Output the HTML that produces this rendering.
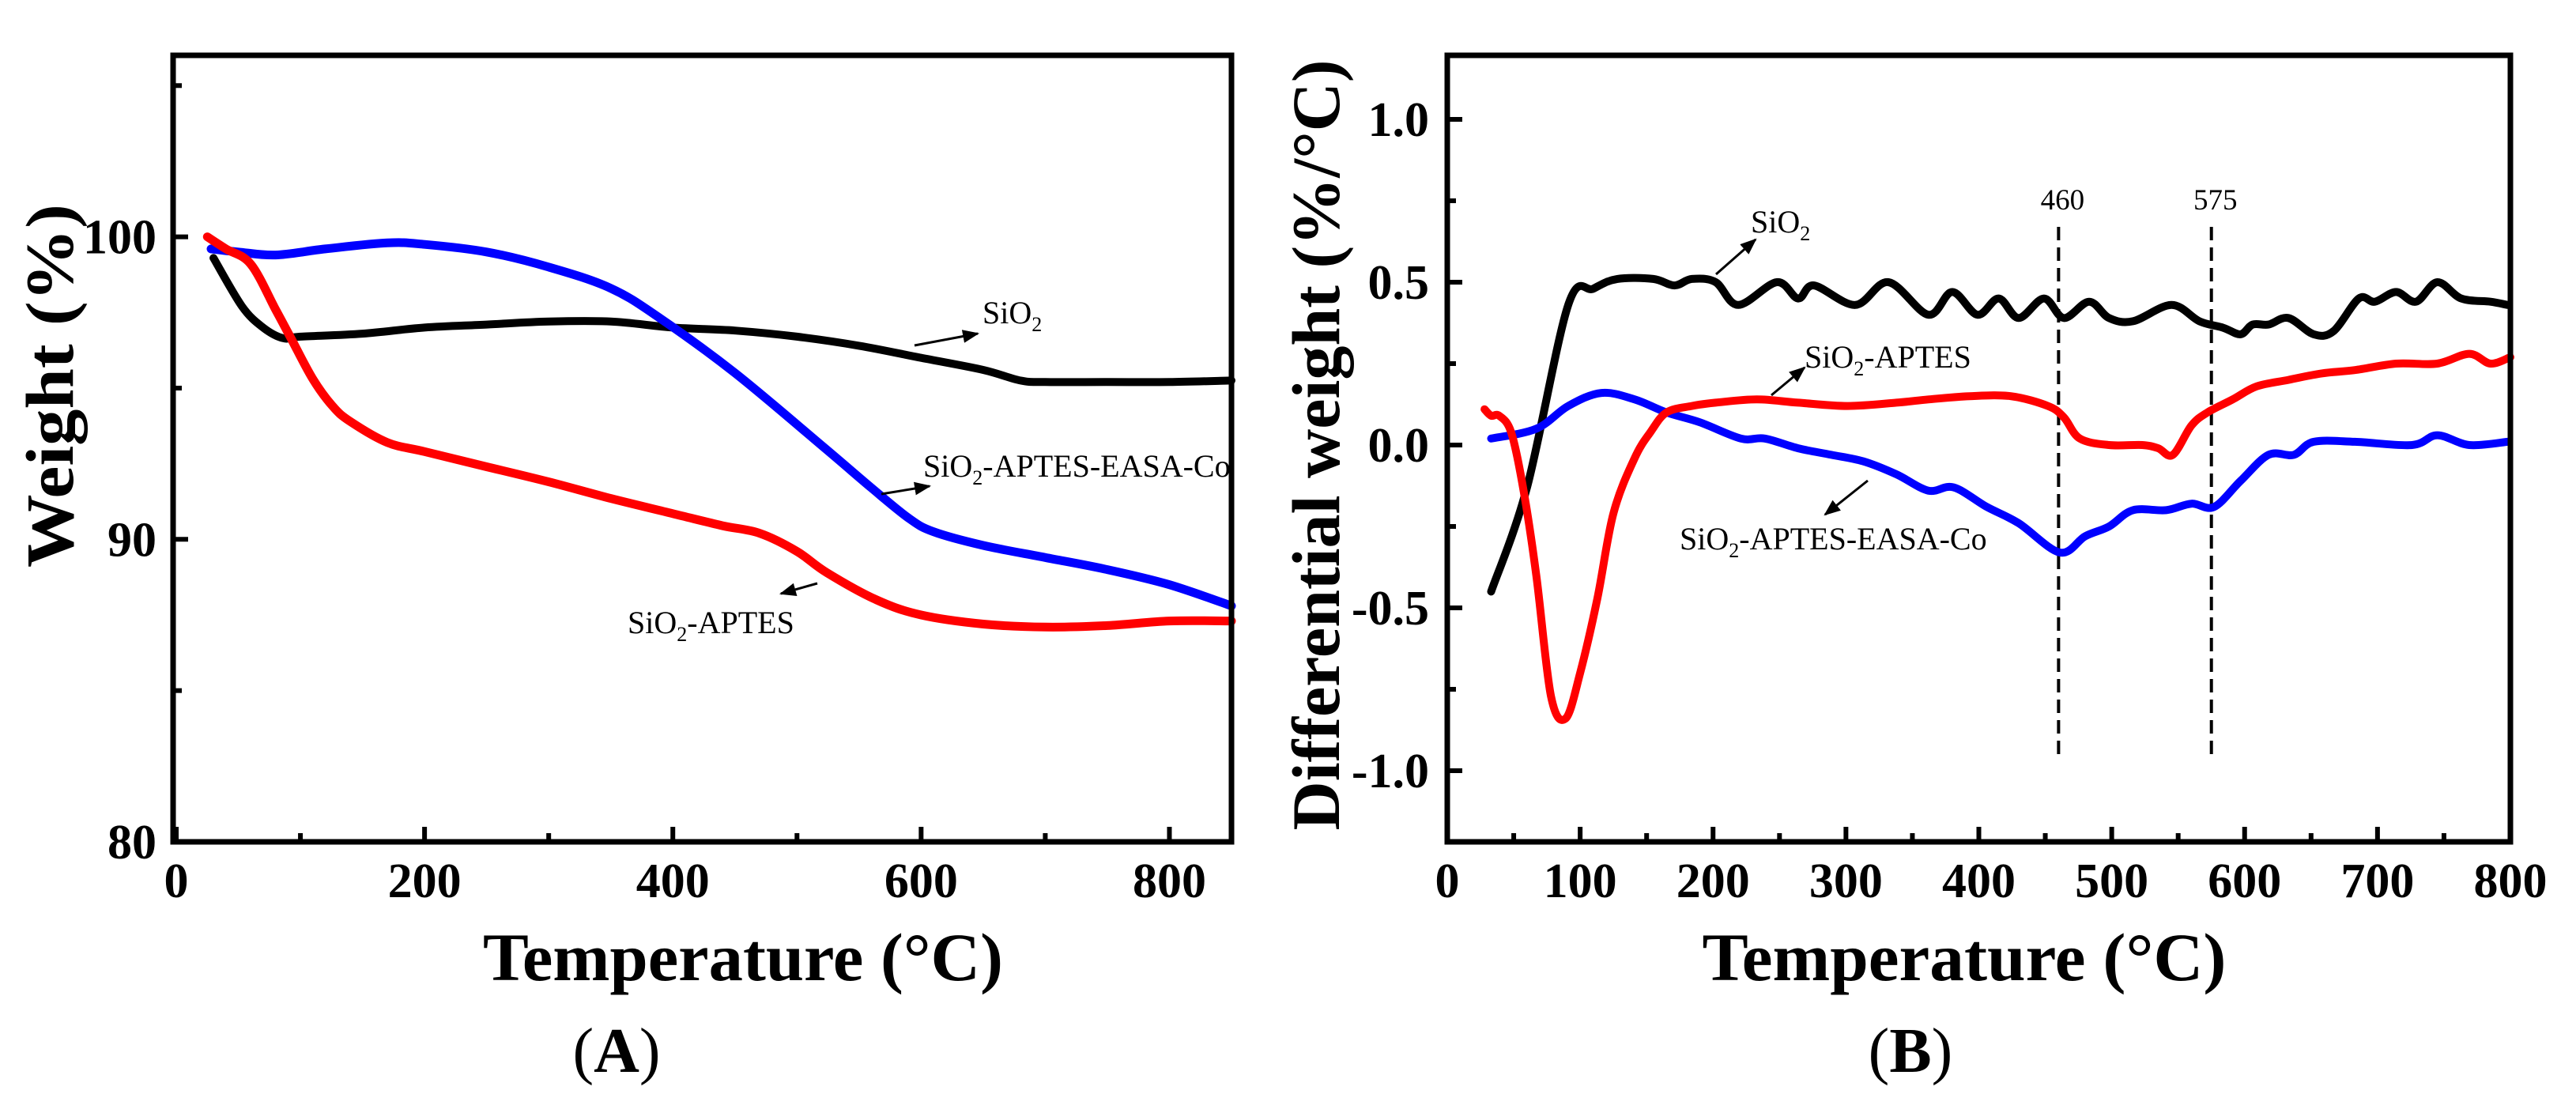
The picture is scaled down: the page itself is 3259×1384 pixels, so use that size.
<!DOCTYPE html>
<html><head><meta charset="utf-8"><style>
html,body{margin:0;padding:0;background:#fff;}
svg{display:block;}
text{font-family:"Liberation Serif","DejaVu Serif",serif;}
.tk{font-weight:bold;font-size:62px;}
.ttl{font-weight:bold;font-size:86px;}
.ann{font-size:40px;}
</style></head><body>
<svg id="fig" width="3259" height="1384" viewBox="0 0 3259 1384" xmlns="http://www.w3.org/2000/svg">
<defs>
<marker id="ah" viewBox="0 0 10 10" refX="9" refY="5" markerWidth="7" markerHeight="7" orient="auto"><path d="M0,1 L10,5 L0,9 z" fill="#000"/></marker>
</defs>
<g id="pa"></g>
<g id="pb"></g>
</svg>
<script>
// ---- Panel A data (TGA) ----
const aSiO2X = [30,53,70,86,100,150,200,250,300,350,400,450,500,550,600,650,680,700,750,800,850];
const aSiO2Y = [99.3,97.7,97.0,96.65,96.7,96.8,97.0,97.1,97.2,97.2,97.0,96.9,96.7,96.4,96.0,95.6,95.25,95.2,95.2,95.2,95.25];
const aAptesX = [25,40,60,80,93,110,126,140,170,200,250,300,350,400,440,470,500,524,564,600,650,700,750,800,850];
const aAptesY = [100,99.6,99.1,97.6,96.6,95.3,94.4,93.9,93.2,92.9,92.4,91.9,91.35,90.85,90.45,90.2,89.6,88.9,88.0,87.5,87.2,87.1,87.15,87.3,87.3];
const aCoX = [28,50,80,120,170,200,250,300,350,390,450,520,560,590,610,650,700,750,800,850];
const aCoY = [99.6,99.5,99.4,99.6,99.8,99.75,99.5,99.0,98.3,97.3,95.5,93.1,91.7,90.7,90.25,89.8,89.4,89.0,88.5,87.8];
const aXTicks = [0,200,400,600,800];
const aYTicks = [80,90,100];
// ---- Panel B data (DTG) ----
const bSiO2X = [33,60,91,110,128,155,171,184,202,219,248,264,276,307,332,362,380,399,415,430,449,464,483,498,516,545,566,584,597,606,618,633,652,667,686,698,714,729,745,763,785,798];
const bSiO2Y = [-0.45,-0.13,0.43,0.48,0.51,0.51,0.49,0.51,0.5,0.43,0.5,0.45,0.49,0.43,0.5,0.4,0.47,0.4,0.45,0.39,0.45,0.39,0.44,0.39,0.38,0.43,0.38,0.36,0.34,0.37,0.37,0.39,0.34,0.35,0.45,0.44,0.47,0.44,0.5,0.45,0.44,0.43];
const bAptesX = [28,33,39,48,57,67,78,89,100,113,125,141,153,165,184,202,233,264,301,338,362,393,424,452,464,476,498,523,535,546,560,572,591,609,633,658,683,714,745,769,785,800];
const bAptesY = [0.11,0.09,0.09,0.04,-0.13,-0.4,-0.77,-0.84,-0.7,-0.47,-0.21,-0.04,0.04,0.1,0.12,0.13,0.14,0.13,0.12,0.13,0.14,0.15,0.15,0.12,0.085,0.02,0.0,0.0,-0.01,-0.03,0.06,0.1,0.14,0.18,0.2,0.22,0.23,0.25,0.25,0.28,0.25,0.27];
const bCoX = [33,67,91,116,141,165,190,221,239,264,289,313,338,362,381,406,430,461,480,498,516,541,560,577,597,618,637,652,683,726,745,769,798];
const bCoY = [0.02,0.05,0.12,0.16,0.14,0.1,0.07,0.02,0.02,-0.01,-0.03,-0.05,-0.09,-0.14,-0.13,-0.19,-0.24,-0.33,-0.28,-0.25,-0.2,-0.2,-0.18,-0.19,-0.11,-0.03,-0.03,0.01,0.01,0.0,0.03,0.0,0.01];
const bXTicks = [0,100,200,300,400,500,600,700,800];
const bYTicks = [-1.0,-0.5,0.0,0.5,1.0];
const bYLabels = ["-1.0","-0.5","0.0","0.5","1.0"];
const bMarkers = [460,575];

const NS = "http://www.w3.org/2000/svg";
function mk(parent, tag, attrs, txt){
  const e = document.createElementNS(NS, tag);
  for (const k in attrs) e.setAttribute(k, attrs[k]);
  if (txt !== undefined) e.textContent = txt;
  parent.appendChild(e); return e;
}
function scale(d0,d1,p0,p1){ return v => p0 + (v-d0)/(d1-d0)*(p1-p0); }
// smooth path (Catmull-Rom -> cubic Bezier)
function path(xs, ys, sx, sy){
  const p = xs.map((x,i)=>[sx(x), sy(ys[i])]);
  let d = 'M'+p[0][0].toFixed(1)+','+p[0][1].toFixed(1);
  for (let i=0;i<p.length-1;i++){
    const p0=p[Math.max(0,i-1)], p1=p[i], p2=p[i+1], p3=p[Math.min(p.length-1,i+2)];
    const c1=[p1[0]+(p2[0]-p0[0])/6, p1[1]+(p2[1]-p0[1])/6];
    const c2=[p2[0]-(p3[0]-p1[0])/6, p2[1]-(p3[1]-p1[1])/6];
    d += ' C'+c1[0].toFixed(1)+','+c1[1].toFixed(1)+' '+c2[0].toFixed(1)+','+c2[1].toFixed(1)+' '+p2[0].toFixed(1)+','+p2[1].toFixed(1);
  }
  return d;
}

// ---------- Panel A ----------
const pa = document.getElementById('pa');
const ax = scale(0,850,223,1558);
const ay = scale(80,106,1065,70);

let s;
s = mk(pa,'path',{d:path(aSiO2X,aSiO2Y,ax,ay),fill:'none',stroke:'#000','stroke-width':10,'stroke-linejoin':'round','stroke-linecap':'round'});
 
s = mk(pa,'path',{d:path(aCoX,aCoY,ax,ay),fill:'none',stroke:'#0000ff','stroke-width':11,'stroke-linejoin':'round','stroke-linecap':'round'});
 
s = mk(pa,'path',{d:path(aAptesX,aAptesY,ax,ay),fill:'none',stroke:'#ff0000','stroke-width':11,'stroke-linejoin':'round','stroke-linecap':'round'});
 

s = mk(pa,'rect',{x:219,y:70,width:1339,height:995,fill:'none',stroke:'#000','stroke-width':7});
 
for (let v=0; v<=800; v+=100){
  const major = v%200===0;
  const t = mk(pa,'line',{x1:ax(v),x2:ax(v),y1:1065,y2:1065-(major?19:11),stroke:'#000','stroke-width':6});
   
}
aXTicks.forEach(v=>{
  const t = mk(pa,'text',{x:ax(v),y:1135,'text-anchor':'middle',class:'tk'},String(v));
   
});
for (let v=85; v<=105; v+=5){
  const major = v%10===0;
  const t = mk(pa,'line',{x1:219,x2:219+(major?19:11),y1:ay(v),y2:ay(v),stroke:'#000','stroke-width':6});
   
}
aYTicks.forEach(v=>{
  const t = mk(pa,'text',{x:198,y:ay(v)+21,'text-anchor':'end',class:'tk'},String(v));
   
});
s = mk(pa,'text',{x:940,y:1240,'text-anchor':'middle',class:'ttl',textLength:658,lengthAdjust:'spacingAndGlyphs'},'Temperature (°C)');
 
s = mk(pa,'text',{x:0,y:0,'text-anchor':'middle',class:'ttl',transform:'translate(92,488) rotate(-90)',textLength:460,lengthAdjust:'spacingAndGlyphs'},'Weight  (%)');
 
s = mk(pa,'text',{x:780,y:1356,'text-anchor':'middle',style:'font-size:80px'},'');
mk(s,'tspan',{},'('); mk(s,'tspan',{'font-weight':'bold'},'A'); mk(s,'tspan',{},')');
 

function ann(parent, x, y, main, rest, name){
  const t = mk(parent,'text',{x:x,y:y,class:'ann'});
  mk(t,'tspan',{},main);
  mk(t,'tspan',{dy:10,style:'font-size:26px'},'2');
  if (rest) mk(t,'tspan',{dy:-10},rest);
   
}
function arrow(parent,x1,y1,x2,y2,name){
  const l = mk(parent,'line',{x1:x1,y1:y1,x2:x2,y2:y2,stroke:'#000','stroke-width':3,'marker-end':'url(#ah)'});
   
}
ann(pa,1243,409,'SiO','', 'label-sio2-a');
arrow(pa,1157,437,1237,422,'arrow-sio2-a');
ann(pa,1168,603,'SiO','-APTES-EASA-Co','label-sio2-aptes-easa-co-a');
arrow(pa,1115,625,1176,615,'arrow-easa-co-a');
ann(pa,794,801,'SiO','-APTES','label-sio2-aptes-a');
arrow(pa,1034,738,988,751,'arrow-aptes-a');

// ---------- Panel B ----------
const pb = document.getElementById('pb');
const bx = scale(0,800,1831,3176);
const by = scale(0,1,563,151);

bMarkers.forEach(v=>{
  const l = mk(pb,'line',{x1:bx(v),x2:bx(v),y1:287,y2:962,stroke:'#000','stroke-width':4,'stroke-dasharray':'17 9'});
   
  const t = mk(pb,'text',{x:bx(v)+5,y:265,'text-anchor':'middle',style:'font-size:37px'},String(v));
   
});
s = mk(pb,'path',{d:path(bSiO2X,bSiO2Y,bx,by),fill:'none',stroke:'#000','stroke-width':10,'stroke-linejoin':'round','stroke-linecap':'round'});
 
s = mk(pb,'path',{d:path(bCoX,bCoY,bx,by),fill:'none',stroke:'#0000ff','stroke-width':10,'stroke-linejoin':'round','stroke-linecap':'round'});
 
s = mk(pb,'path',{d:path(bAptesX,bAptesY,bx,by),fill:'none',stroke:'#ff0000','stroke-width':10,'stroke-linejoin':'round','stroke-linecap':'round'});
 

s = mk(pb,'rect',{x:1831,y:70,width:1345,height:995,fill:'none',stroke:'#000','stroke-width':7});
 
for (let v=0; v<=800; v+=50){
  const major = v%100===0;
  const t = mk(pb,'line',{x1:bx(v),x2:bx(v),y1:1065,y2:1065-(major?19:11),stroke:'#000','stroke-width':6});
   
}
bXTicks.forEach(v=>{
  const t = mk(pb,'text',{x:bx(v),y:1135,'text-anchor':'middle',class:'tk'},String(v));
   
});
for (let v=-1.0; v<=1.001; v+=0.25){
  const major = Math.abs(v*2-Math.round(v*2))<1e-6;
  const t = mk(pb,'line',{x1:1831,x2:1831+(major?19:11),y1:by(v),y2:by(v),stroke:'#000','stroke-width':6});
   
}
bYTicks.forEach((v,i)=>{
  const t = mk(pb,'text',{x:1808,y:by(v)+21,'text-anchor':'end',class:'tk'},bYLabels[i]);
   
});
s = mk(pb,'text',{x:2485,y:1240,'text-anchor':'middle',class:'ttl',textLength:663,lengthAdjust:'spacingAndGlyphs'},'Temperature (°C)');
 
s = mk(pb,'text',{x:0,y:0,'text-anchor':'middle',class:'ttl',transform:'translate(1694,563) rotate(-90)',textLength:975,lengthAdjust:'spacingAndGlyphs'},'Differential weight (%/°C)');
 
s = mk(pb,'text',{x:2417,y:1356,'text-anchor':'middle',style:'font-size:80px'},'');
mk(s,'tspan',{},'('); mk(s,'tspan',{'font-weight':'bold'},'B'); mk(s,'tspan',{},')');
 

ann(pb,2215,294,'SiO','','label-sio2-b');
arrow(pb,2171,347,2221,303,'arrow-sio2-b');
ann(pb,2283,465,'SiO','-APTES','label-sio2-aptes-b');
arrow(pb,2241,500,2283,465,'arrow-aptes-b');
ann(pb,2125,695,'SiO','-APTES-EASA-Co','label-sio2-aptes-easa-co-b');
arrow(pb,2363,608,2309,651,'arrow-easa-co-b');
</script>
</body></html>
